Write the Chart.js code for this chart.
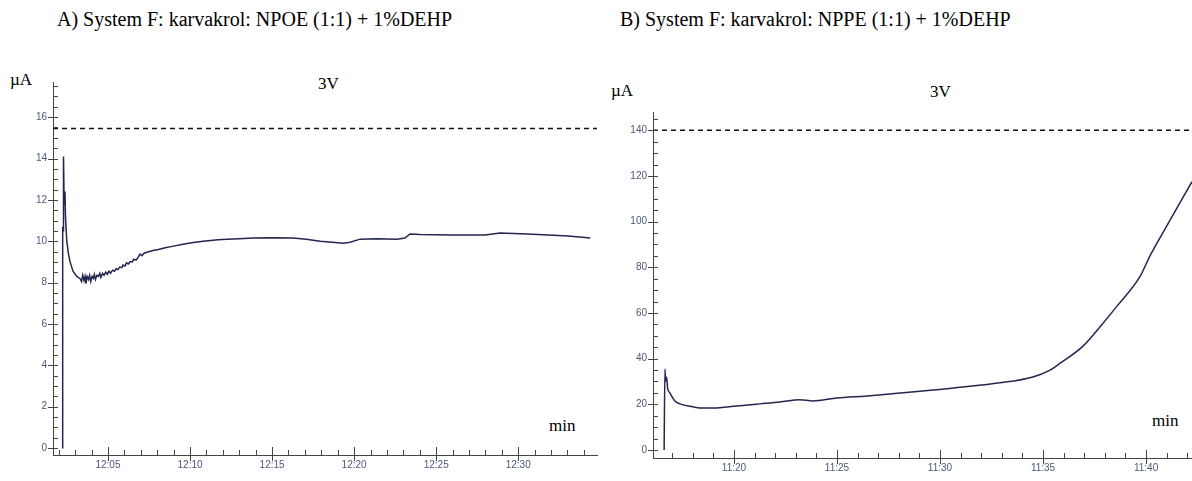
<!DOCTYPE html>
<html>
<head>
<meta charset="utf-8">
<script src="https://cdn.jsdelivr.net/npm/chart.js@4.4.0/dist/chart.umd.min.js"></script>
<style>
body{margin:0;width:1192px;height:481px;overflow:hidden;background:#fff;position:relative;font-family:"Liberation Serif","Times New Roman",serif;color:#000}
.t{position:absolute;white-space:nowrap;line-height:normal}
.title{font-size:20px}
.lab{font-size:17px}
canvas{position:absolute}
</style>
</head>
<body>
<div class="t title" style="left:57px;top:8px">A) System F: karvakrol: NPOE (1:1) + 1%DEHP</div>
<div class="t title" style="left:620px;top:8px">B) System F: karvakrol: NPPE (1:1) + 1%DEHP</div>
<div class="t lab" style="left:10px;top:70px">&micro;A</div>
<div class="t lab" style="left:318px;top:74px">3V</div>
<div class="t lab" style="left:549px;top:416px">min</div>
<div class="t lab" style="left:611px;top:81px">&micro;A</div>
<div class="t lab" style="left:930px;top:82px">3V</div>
<div class="t lab" style="left:1152px;top:411px">min</div>

<canvas id="chartA" width="600" height="420" style="left:0;top:60px"></canvas>
<canvas id="chartB" width="592" height="411" style="left:600px;top:70px"></canvas>

<script>
// A: minutes after 12:00, current in uA
var timeA = [2.22, 2.24, 2.27, 2.29, 2.33, 2.38, 2.41, 2.49, 2.59, 2.69, 2.87, 3.1, 3.29,
  3.39, 3.46, 3.54, 3.6, 3.66, 3.73, 3.81, 3.88, 3.95, 4.03, 4.11, 4.17, 4.24, 4.32, 4.42, 4.5, 4.57,
  4.67, 4.76, 4.86, 4.96, 5.06, 5.16, 5.28, 5.4, 5.5, 5.6, 5.71, 5.85, 5.91, 6.04, 6.13, 6.24,
  6.35, 6.48, 6.56, 6.73, 6.95, 7.07, 7.2, 7.42, 7.74, 8.07, 8.49, 8.92, 9.57, 10.1, 10.79,
  11.71, 12.25, 13.0, 13.86, 14.94, 16.28, 17.08, 17.94, 18.69, 19.33, 19.76, 20.36, 21.38,
  22.62, 23.09, 23.41, 24.02, 26.05, 27.98, 28.89, 30.55, 31.82, 33.05, 34.39];
var currA = [0, 10.7, 10.5, 14.1, 11.8, 12.4, 11.2, 10.0, 9.4, 9.0, 8.55, 8.3, 8.2,
  8.05, 8.35, 8.1, 8.3, 7.95, 8.3, 8.15, 8.35, 8.05, 8.3, 8.2, 8.4, 8.15, 8.35, 8.3, 8.45, 8.25,
  8.45, 8.35, 8.5, 8.4, 8.55, 8.45, 8.6, 8.55, 8.68, 8.62, 8.75, 8.72, 8.85, 8.8, 8.95, 8.9,
  9.02, 9.0, 9.12, 9.1, 9.38, 9.3, 9.42, 9.48, 9.55, 9.6, 9.68, 9.75, 9.85, 9.93, 10.0,
  10.07, 10.1, 10.12, 10.15, 10.17, 10.15, 10.1, 10.0, 9.95, 9.9, 9.95, 10.1, 10.12,
  10.1, 10.15, 10.35, 10.33, 10.3, 10.3, 10.4, 10.35, 10.3, 10.25, 10.15];
var refA = 15.45;
var xRangeA = [1.65, 34.8];
var yRangeA = [-0.34, 17.7];

// B: minutes after 11:00, current in uA
var timeB = [16.61, 16.65, 16.68, 16.73, 16.78, 16.89, 17.13, 17.38, 18.01, 18.35, 18.98, 20.15,
  21.26, 22.23, 23.2, 23.83, 25.0, 26.46, 29.66, 32.91, 34.51, 35.34, 35.83, 36.94, 37.77,
  38.59, 39.71, 40.19, 41.0, 42.23];
var currB = [0, 35.5, 30, 32, 27, 25, 21.5, 20.2, 18.9, 18.4, 18.4, 19.3,
  20.2, 21.0, 22.0, 21.5, 22.8, 23.7, 26.3, 29.4, 32, 35, 38, 45.5, 54,
  63, 76, 85, 98, 117.5];
var refB = 140;
var xRangeB = [16.07, 42.23];
var yRangeB = [-3.5, 148];

Chart.defaults.font.family = '"Liberation Sans", Arial, sans-serif';
Chart.defaults.font.size = 10;

// short tick marks on the inner side of both axes, majors also cross outward
var innerTicks = {
  id: 'innerTicks',
  afterDraw: function(chart){
    var ctx = chart.ctx, xs = chart.scales.x, ys = chart.scales.y;
    ctx.save();
    ctx.strokeStyle = '#444';
    ctx.lineWidth = 1;
    ctx.beginPath();
    xs.ticks.forEach(function(t, i){
      var px = Math.round(xs.getPixelForTick(i)) + 0.5, y0 = xs.top;
      var major = t.label !== '';
      ctx.moveTo(px, y0 + (major ? 6 : 0));
      ctx.lineTo(px, y0 - (major ? 8 : 5));
    });
    ys.ticks.forEach(function(t, i){
      var py = Math.round(ys.getPixelForTick(i)) + 0.5, x0 = ys.right;
      var major = t.label !== '';
      ctx.moveTo(x0 - (major ? 5 : 0), py);
      ctx.lineTo(x0 + 5, py);
    });
    ctx.stroke();
    ctx.restore();
  }
};

function pad(n){ return n < 10 ? '0' + n : '' + n; }

function makeChart(id, hour, times, vals, ref, xr, yr, yStep, yMajor, opts){
  var pts = times.map(function(t, i){ return {x: t, y: vals[i]}; });
  return new Chart(document.getElementById(id), {
    type: 'line',
    data: {
      datasets: [{
        data: pts,
        borderColor: '#23264f',
        borderWidth: 1.5,
        pointRadius: 0,
        cubicInterpolationMode: opts.smooth ? 'monotone' : 'default',
        tension: 0
      }, {
        data: [{x: xr[0], y: ref}, {x: xr[1], y: ref}],
        borderColor: '#111',
        borderWidth: 1.5,
        borderDash: [5, 4],
        pointRadius: 0
      }]
    },
    options: {
      responsive: false,
      animation: false,
      layout: {padding: opts.padding},
      plugins: {legend: {display: false}, tooltip: {enabled: false}},
      scales: {
        x: {
          type: 'linear',
          min: xr[0], max: xr[1],
          afterFit: function(s){ s.height = opts.xHeight; },
          grid: {display: false, drawTicks: false},
          border: {display: true, color: '#444', width: 1},
          ticks: {
            stepSize: 1, autoSkip: false, maxRotation: 0, includeBounds: false,
            padding: 4, color: '#4b5878',
            callback: function(v){ return v % 5 === 0 ? hour + ':' + pad(v) : ''; }
          }
        },
        y: {
          min: yr[0], max: yr[1],
          afterFit: function(s){ s.width = opts.yWidth; },
          grid: {display: false, drawTicks: false},
          border: {display: true, color: '#444', width: 1},
          ticks: {
            stepSize: yStep, autoSkip: false, includeBounds: false,
            padding: 6, color: '#4b5878',
            callback: function(v){ return Math.abs(v % yMajor) < 1e-6 ? '' + v : ''; }
          }
        }
      }
    },
    plugins: [innerTicks]
  });
}

makeChart('chartA', 12, timeA, currA, refA, xRangeA, yRangeA, 0.5, 2,
  {padding: {left: 0, right: 3, top: 22, bottom: 0}, xHeight: 25, yWidth: 53, smooth: false});
makeChart('chartB', 11, timeB, currB, refB, xRangeB, yRangeB, 5, 20,
  {padding: {left: 0, right: 0, top: 42, bottom: 0}, xHeight: 23, yWidth: 53, smooth: true});
</script>
</body>
</html>
